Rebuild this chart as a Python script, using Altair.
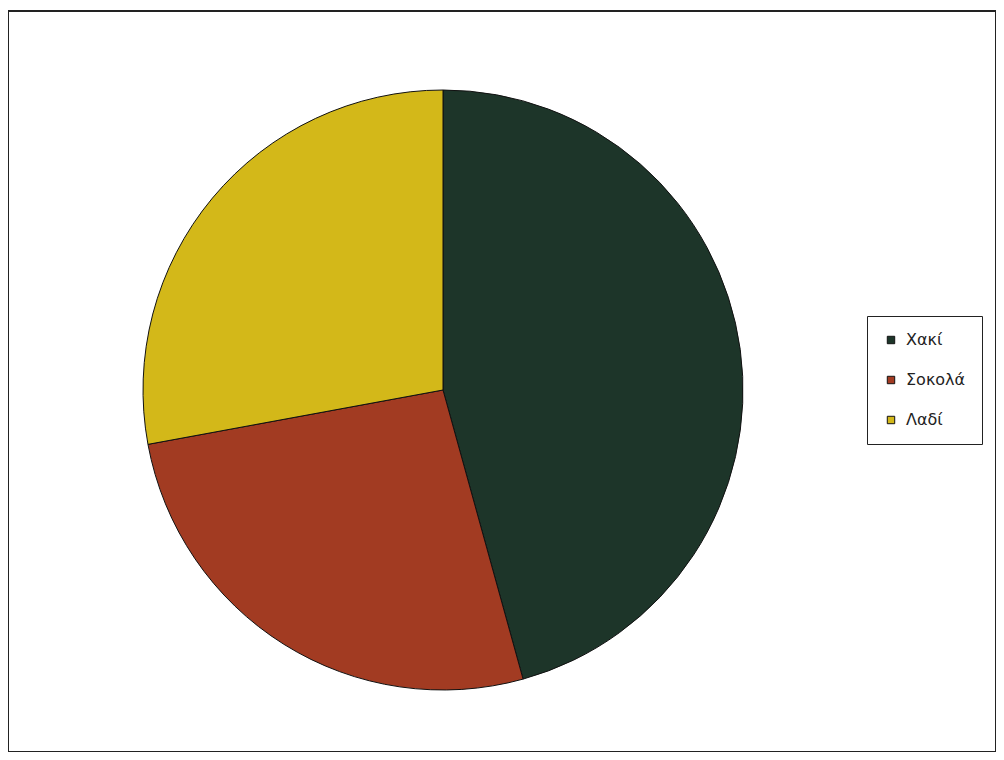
import altair as alt
import pandas as pd

categories = ["Χακί", "Σοκολά", "Λαδί"]
values = [45.7, 26.4, 27.9]
colors = ["#1d3529", "#a23b22", "#d3b819"]

df = pd.DataFrame({"cat": categories, "val": values, "ord": [0, 1, 2]})

chart = alt.Chart(df).mark_arc(
    outerRadius=300, stroke="#111111", strokeWidth=1
).encode(
    theta=alt.Theta("val:Q", stack=True),
    order=alt.Order("ord:Q"),
    color=alt.Color(
        "cat:N",
        sort=categories,
        scale=alt.Scale(domain=categories, range=colors),
        legend=alt.Legend(
            title=None,
            orient="none",
            legendX=859,
            legendY=305,
            strokeColor="#222222",
            padding=16,
            symbolType="square",
            symbolSize=55,
            symbolStrokeColor="#111111",
            symbolStrokeWidth=1,
            labelFont="DejaVu Sans",
            labelFontSize=16,
            labelColor="#222222",
            rowPadding=24,
            labelOffset=7,
        ),
    ),
    x=alt.value(435),
    y=alt.value(379),
).properties(
    width=988,
    height=741,
    padding={"top": 3, "left": 0, "right": 0, "bottom": 0},
    autosize=alt.AutoSizeParams(type="none"),
    background="white",
).configure_view(stroke="#222222", strokeWidth=2)

chart.save("out.html", embed_options={"renderer": "svg", "actions": False})
